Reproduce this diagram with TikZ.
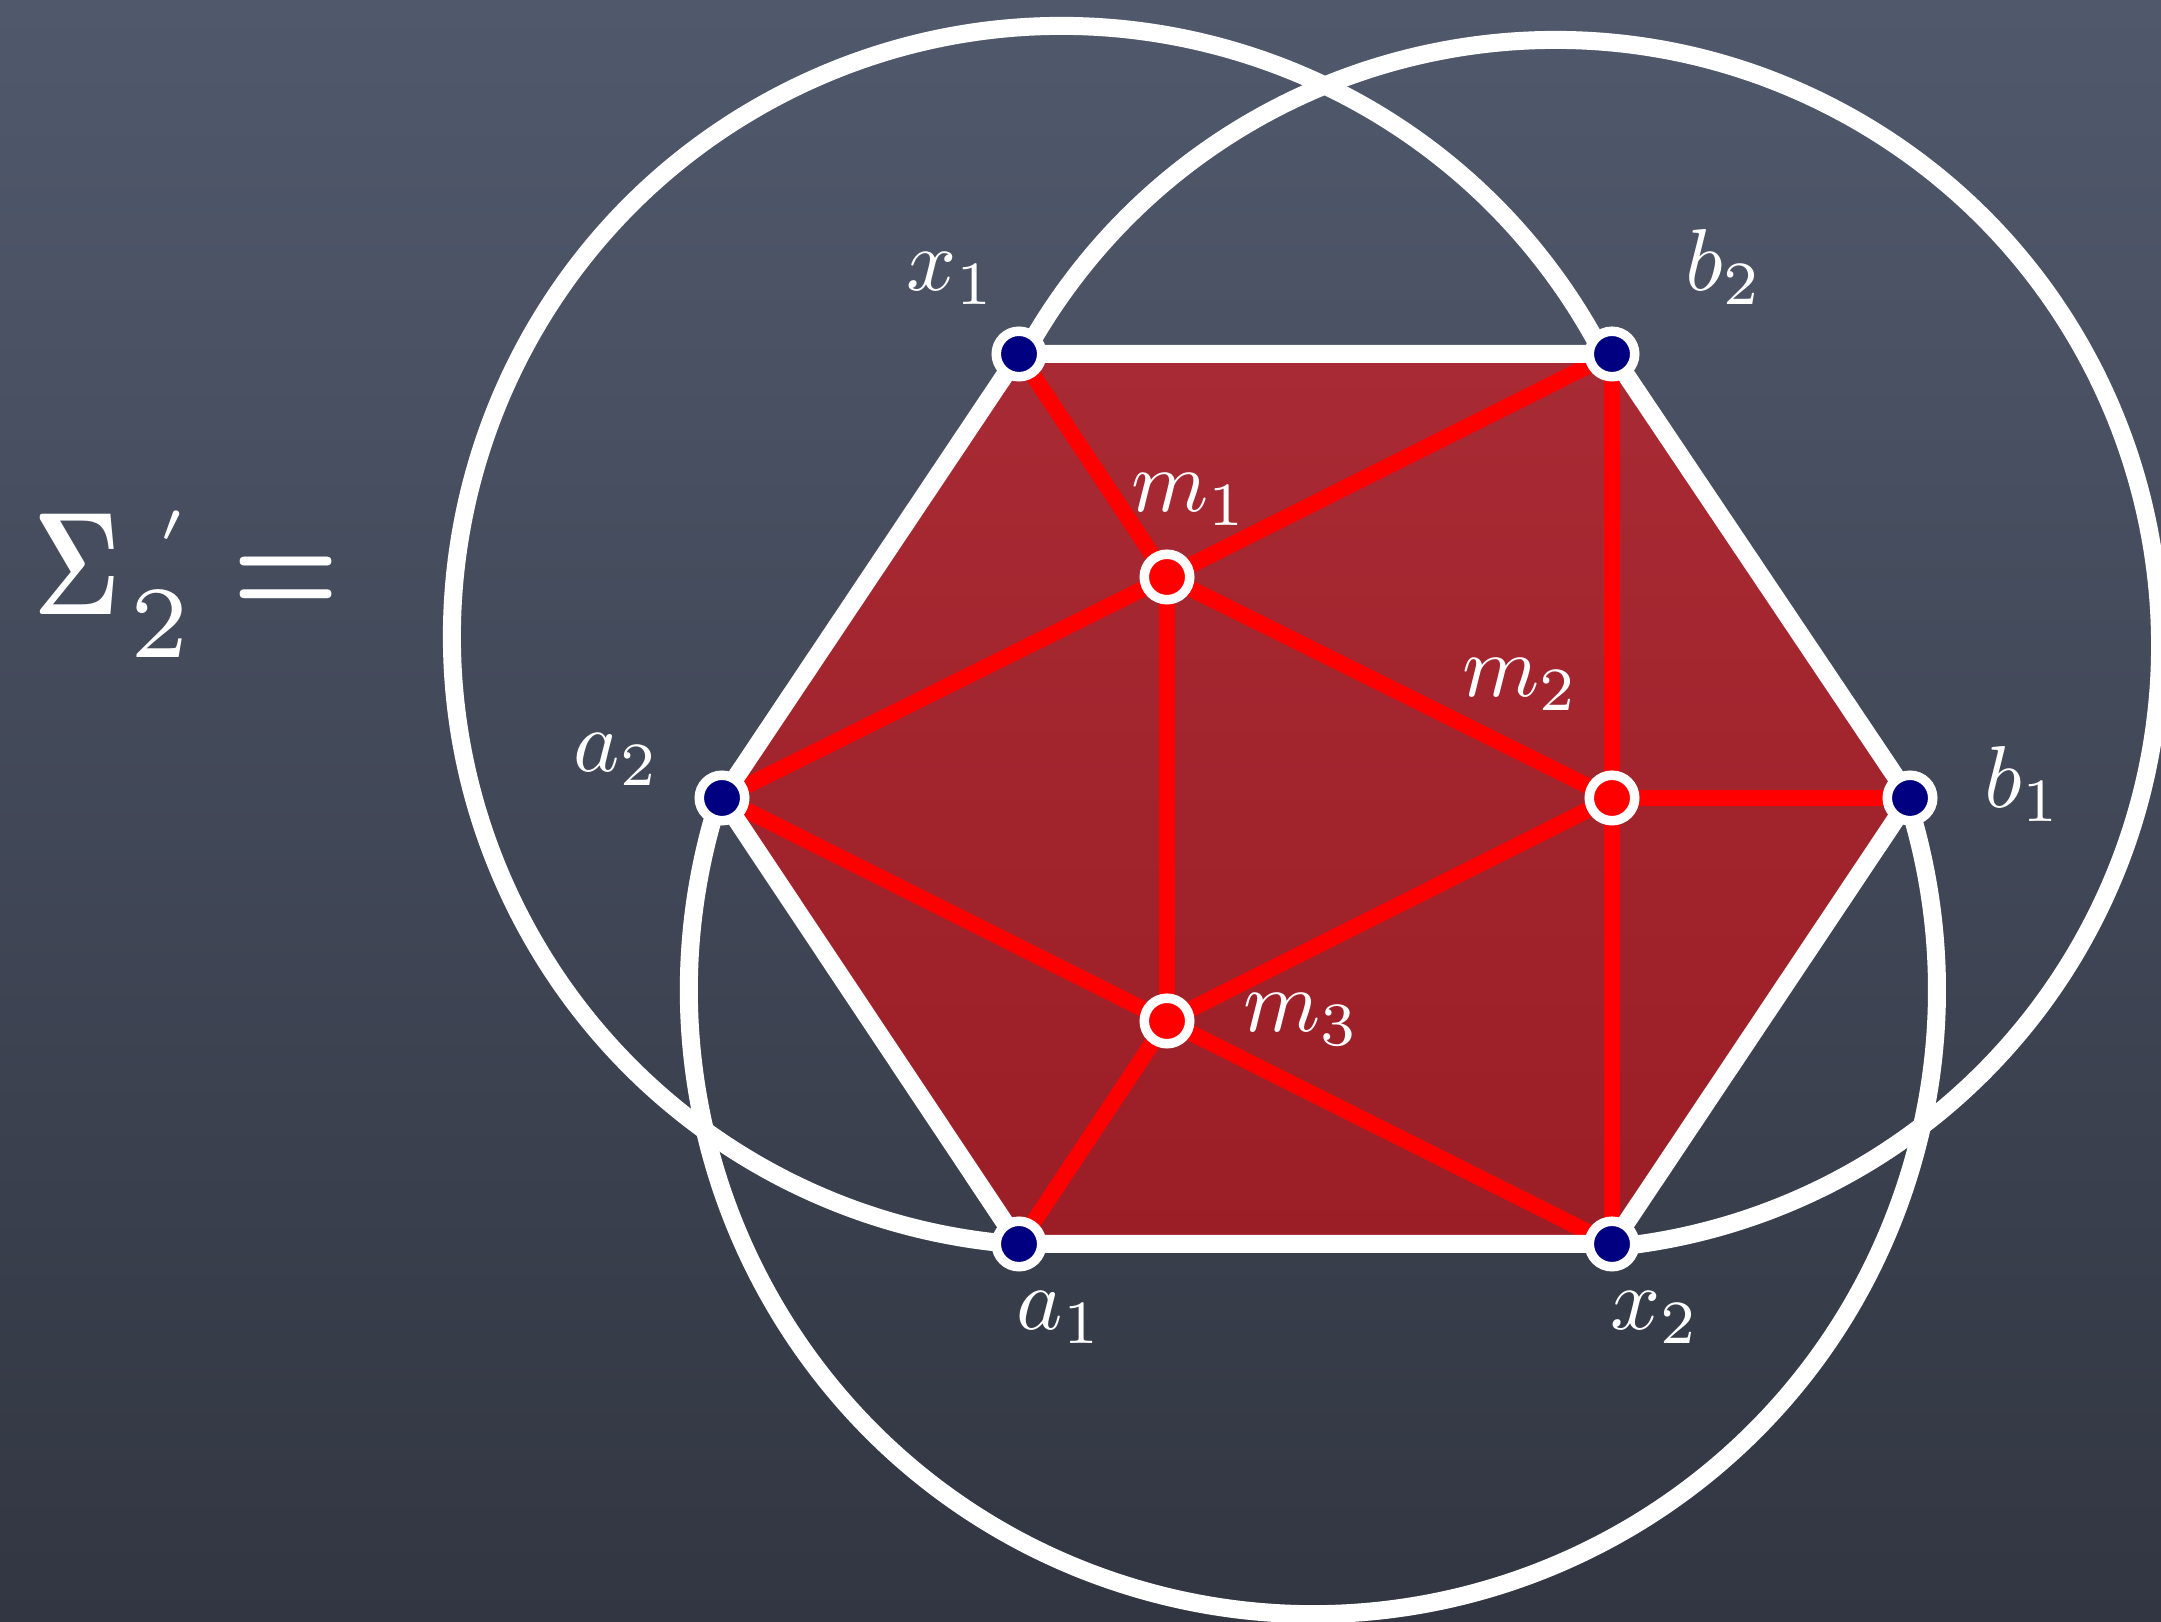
\RequirePackage{fix-cm}
\documentclass[tikz,border=0pt]{standalone}
\usepackage{graphicx}
\definecolor{boardtop}{RGB}{80,89,108}
\definecolor{boardbot}{RGB}{50,54,66}
\definecolor{hexfilltop}{RGB}{168,42,52}
\definecolor{hexfillbot}{RGB}{155,30,38}
\definecolor{dotblue}{RGB}{0,0,128}
\definecolor{edgered}{RGB}{255,0,0}
\begin{document}
\begin{tikzpicture}[
  whiteline/.style={draw=white, line width=0.18cm},
  redline/.style={draw=edgered, line width=0.16cm},
  vdot/.style={circle, inner sep=0pt, minimum size=0.455cm, line width=0.095cm, draw=white, fill=dotblue},
  mdot/.style={vdot, fill=edgered},
  lab/.style={text=white, inner sep=0pt, anchor=base west, scale=2.5, font=\fontsize{10}{12}\selectfont}
]
\shade[top color=boardtop, bottom color=boardbot] (0,0) rectangle (21.61,16.22);
\useasboundingbox (0,0) rectangle (21.61,16.22);

% vertices
\coordinate (x1) at (10.19,12.68);
\coordinate (b2) at (16.12,12.68);
\coordinate (b1) at (19.10,8.24);
\coordinate (x2) at (16.12,3.78);
\coordinate (a1) at (10.19,3.78);
\coordinate (a2) at (7.22,8.24);
\coordinate (m1) at (11.67,10.45);
\coordinate (m2) at (16.12,8.24);
\coordinate (m3) at (11.67,6.01);
% arc centres
\coordinate (c1) at (10.62,9.86);
\coordinate (c2) at (15.55,9.77);
\coordinate (c3) at (13.13,6.32);

% hexagon fill
\shade[top color=hexfilltop, bottom color=hexfillbot] (x1) -- (b2) -- (b1) -- (x2) -- (a1) -- (a2) -- cycle;

% red edges
\draw[redline] (x1) -- (m1);
\draw[redline] (m1) -- (b2);
\draw[redline] (a2) -- (m1);
\draw[redline] (m1) -- (m2);
\draw[redline] (m1) -- (m3);
\draw[redline] (b2) -- (m2);
\draw[redline] (m2) -- (x2);
\draw[redline] (m2) -- (b1);
\draw[redline] (a2) -- (m3);
\draw[redline] (m3) -- (m2);
\draw[redline] (m3) -- (a1);
\draw[redline] (m3) -- (x2);

% white hexagon
\draw[whiteline] (x1) -- (b2) -- (b1) -- (x2) -- (a1) -- (a2) -- cycle;

% outer arcs
\draw[whiteline] ([shift={(27.15:6.10)}]c1) arc[start angle=27.15, end angle=265.95, radius=6.10];
\draw[whiteline] ([shift={(151.5:6.05)}]c2) arc[start angle=151.5, end angle=-84.6, radius=6.05];
\draw[whiteline] ([shift={(162:6.24)}]c3) arc[start angle=162, end angle=377.8, radius=6.24];

% dots
\node[vdot] (dx1) at (x1) {};
\node[vdot] (db2) at (b2) {};
\node[vdot] (db1) at (b1) {};
\node[vdot] (dx2) at (x2) {};
\node[vdot] (da1) at (a1) {};
\node[vdot] (da2) at (a2) {};
\node[mdot] (dm1) at (m1) {};
\node[mdot] (dm2) at (m2) {};
\node[mdot] (dm3) at (m3) {};

% labels
\node[lab] (lx1) at (9.05,13.31) {$x_1$};
\node[lab] (lb2) at (16.84,13.31) {$b_2$};
\node[lab] (la2) at (5.72,8.50) {$a_2$};
\node[lab] (lb1) at (19.83,8.14) {$b_1$};
\node[lab] (lm1) at (11.30,11.10) {$m_1$};
\node[lab] (lm2) at (14.61,9.25) {$m_2$};
\node[lab] (lm3) at (12.42,5.90) {$m_3$};
\node[lab] (la1) at (10.15,2.92) {$a_1$};
\node[lab] (lx2) at (16.09,2.92) {$x_2$};

% title
\node[text=white, inner sep=0pt, anchor=base west, scale=4.16, font=\fontsize{10}{12}\selectfont] (title) at (0.31,10.07)
  {\scalebox{0.72}[1]{\boldmath$\Sigma$}\kern0.6pt\rlap{\kern2.0pt\raisebox{5.0pt}{\scalebox{0.75}{$\scriptscriptstyle\prime$}}}\raisebox{-2.9pt}{$\scriptstyle 2$}\kern3.0pt\scalebox{0.82}[1]{\boldmath$=$}};
\end{tikzpicture}
\end{document}
